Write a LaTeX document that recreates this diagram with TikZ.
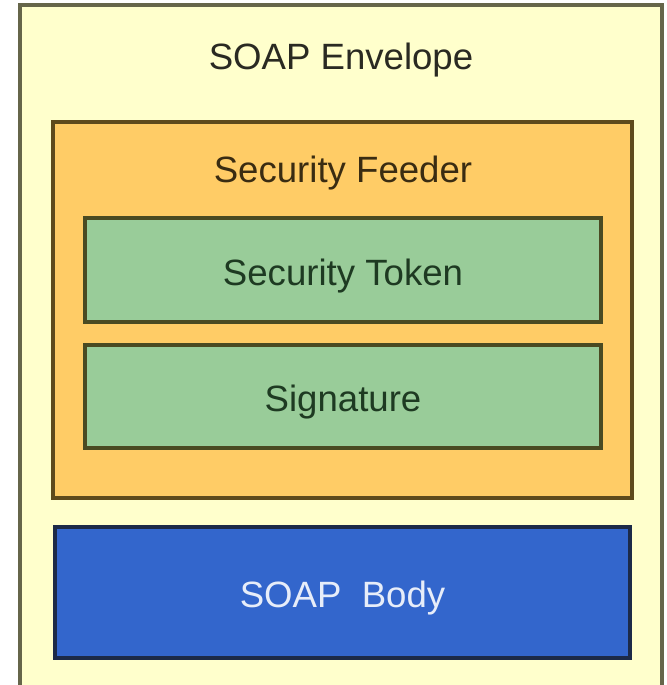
\documentclass[tikz,border=0pt]{standalone}
\usepackage{fontspec}
\setmainfont{Liberation Sans}
\usepackage{xcolor}
\usepackage{tikz}
\usetikzlibrary{positioning}
\definecolor{ENV}{HTML}{FFFFCC}
\definecolor{ENVLINE}{HTML}{66664A}
\definecolor{FEED}{HTML}{FFCC66}
\definecolor{FEEDLINE}{HTML}{5E4A1C}
\definecolor{TOK}{HTML}{99CC99}
\definecolor{TOKLINE}{HTML}{4A4A22}
\definecolor{BODY}{HTML}{3366CC}
\definecolor{BODYLINE}{HTML}{1C2A48}
\definecolor{INK}{HTML}{2A2A22}
\definecolor{FEEDINK}{HTML}{3A2C12}
\definecolor{TOKINK}{HTML}{1E3A22}

\begin{document}
\begin{tikzpicture}[
    x=0.5pt, y=-0.5pt,
    font=\fontsize{18.3}{22}\selectfont,
    layer/.style={rectangle, inner sep=0pt, line width=1.6pt},
    envbox/.style={layer, fill=ENV, draw=ENVLINE},
    feedbox/.style={layer, fill=FEED, draw=FEEDLINE},
    tokbox/.style={layer, fill=TOK, draw=TOKLINE, minimum width=258pt},
    bodybox/.style={layer, fill=BODY, draw=BODYLINE},
    title/.style={anchor=base},
  ]
  \useasboundingbox (0,0) rectangle (667,685);

  % envelope runs past the lower edge
  \begin{scope}
    \clip (0,0) rectangle (667,685);
    \node[envbox, minimum width=321pt, minimum height=347.5pt] (env) at (341,352.5) {};
  \end{scope}
  \node[title, text=INK] (envlabel) at (341,69) {SOAP Envelope};

  % --- security feeder ---
  \node[feedbox, minimum width=289.5pt, minimum height=188pt] (feeder) at (342.5,310) {};
  \node[title, text=FEEDINK] (feederlabel) at (343,182) {Security Feeder};

  \node[tokbox, minimum height=52pt] (token) at (343,270) {};
  \node[title, text=TOKINK] (tokenlabel) at (343,285) {Security Token};
  \node[tokbox, minimum height=51.5pt] (sig) at (343,396.5) {};
  \node[title, text=TOKINK] (siglabel) at (343,411) {Signature};

  % --- body ---
  \node[bodybox, minimum width=287.5pt, minimum height=65.5pt] (body) at (342.5,592.5) {};
  \node[title, text=white!88!BODY] (bodylabel) at (342.5,607) {SOAP~ Body};

\end{tikzpicture}
\end{document}
